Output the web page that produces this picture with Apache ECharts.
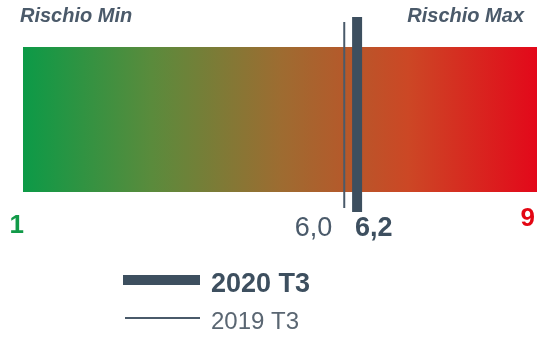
<!DOCTYPE html>
<html>
<head>
<meta charset="utf-8">
<script src="https://cdn.jsdelivr.net/npm/echarts@6/dist/echarts.min.js"></script>
<style>html,body{margin:0;padding:0;background:#fff}#c{width:554px;height:339px}</style>
</head>
<body>
<div id="c"></div>
<script>
const scaleMin = 1;
const scaleMax = 9;
const scaleLabels = ['1', '9'];
const edgeTitles = ['Rischio Min', 'Rischio Max'];
const markerNames = ['2019 T3', '2020 T3'];
const markerValues = [6.0, 6.2];
const markerLabels = ['6,0', '6,2'];

const FONT = '"Liberation Sans", Arial, sans-serif';
const DARK = '#3d4f5f';
const THIN = '#4a5a6a';

const chart = echarts.init(document.getElementById('c'), null, {renderer: 'canvas'});

const gradient = new echarts.graphic.LinearGradient(0, 0, 1, 0, [
  {offset: 0, color: '#0c9a47'},
  {offset: 0.25, color: '#5a8b3c'},
  {offset: 0.5, color: '#9d6c31'},
  {offset: 0.75, color: '#cc4725'},
  {offset: 1, color: '#e3081a'}
]);

chart.setOption({
  animation: false,
  grid: {left: 23, right: 17, top: 47, height: 145},
  xAxis: {type: 'value', min: scaleMin, max: scaleMax, show: false},
  yAxis: {type: 'value', min: 0, max: 1, show: false},
  graphic: [
    {type: 'text', left: 20, top: 6, style: {text: edgeTitles[0], font: 'italic bold 20px ' + FONT, fill: '#4b5a6a'}},
    {type: 'text', right: 30, top: 6, style: {text: edgeTitles[1], font: 'italic bold 20px ' + FONT, fill: '#4b5a6a'}},
    {type: 'rect', shape: {x: 123, y: 275, width: 77, height: 10}, style: {fill: DARK}},
    {type: 'rect', shape: {x: 125, y: 317, width: 75, height: 2}, style: {fill: THIN}},
    {type: 'text', x: 211, y: 285, style: {text: markerNames[1], font: 'bold 27px ' + FONT, fill: DARK, verticalAlign: 'middle'}},
    {type: 'text', x: 211, y: 322, style: {text: markerNames[0], font: '24px ' + FONT, fill: '#5a6672', verticalAlign: 'middle'}}
  ],
  series: [
    {
      type: 'custom',
      data: [[scaleMin, scaleMax]],
      renderItem: function (params, api) {
        const p0 = api.coord([api.value(0), 0]);
        const p1 = api.coord([api.value(1), 1]);
        return {
          type: 'group',
          children: [
            {type: 'rect', shape: {x: p0[0], y: p1[1], width: p1[0] - p0[0], height: p0[1] - p1[1]}, style: {fill: gradient}},
            {type: 'text', x: p0[0] + 1, y: p0[1] + 34, style: {text: scaleLabels[0], font: 'bold 26px ' + FONT, fill: '#119a48', align: 'right', verticalAlign: 'middle'}},
            {type: 'text', x: p1[0] - 2, y: p0[1] + 27, style: {text: scaleLabels[1], font: 'bold 26px ' + FONT, fill: '#e30613', align: 'right', verticalAlign: 'middle'}}
          ]
        };
      }
    },
    {
      type: 'custom',
      data: markerValues.map(function (v, i) { return [v, i]; }),
      renderItem: function (params, api) {
        const i = api.value(1);
        const top = api.coord([api.value(0), 1]);
        const bot = api.coord([api.value(0), 0]);
        const thick = i === 1;
        const w = thick ? 10 : 2;
        const x = top[0];
        const y0 = thick ? top[1] - 30 : top[1] - 25;
        const y1 = thick ? bot[1] + 20 : bot[1] + 16;
        return {
          type: 'group',
          children: [
            {type: 'rect', shape: {x: x - w / 2, y: y0, width: w, height: y1 - y0}, style: {fill: thick ? DARK : THIN}},
            {type: 'text', x: thick ? x - 2 : x - 12, y: bot[1] + 37,
              style: {text: markerLabels[i], font: (thick ? 'bold ' : '') + '27px ' + FONT,
                fill: thick ? DARK : '#4a5a6a', align: thick ? 'left' : 'right', verticalAlign: 'middle'}}
          ]
        };
      }
    }
  ]
});
</script>
</body>
</html>
